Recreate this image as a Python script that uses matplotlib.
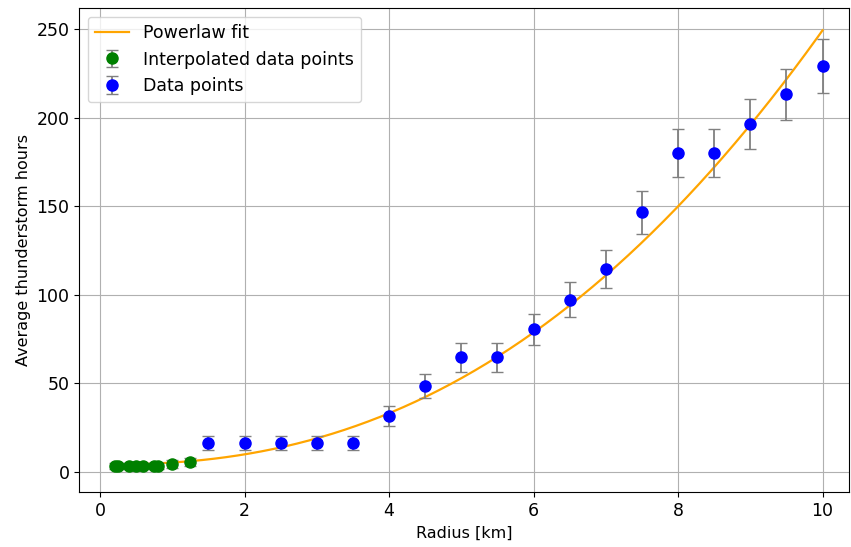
import numpy as np
import matplotlib
matplotlib.use("Agg")
import matplotlib.pyplot as plt

# interpolated points at small radii
interp_r = [0.2, 0.25, 0.4, 0.5, 0.6, 0.75, 0.8, 1.0, 1.25]
interp_h = [3.4, 3.4, 3.4, 3.4, 3.4, 3.5, 3.5, 4.5, 5.6]

# measured points
radius = [1.5, 2.0, 2.5, 3.0, 3.5, 4.0, 4.5, 5.0, 5.5, 6.0,
          6.5, 7.0, 7.5, 8.0, 8.5, 9.0, 9.5, 10.0]
hours = [16.4, 16.4, 16.4, 16.4, 16.4, 31.7, 48.5, 64.7, 64.7, 80.5,
         97.4, 114.7, 146.6, 180.2, 180.2, 196.5, 213.2, 229.1]

# powerlaw fit parameters: c + a * r**b
fit_a, fit_b, fit_c = 1.147, 2.33, 4.2

interp_err = np.sqrt(interp_h)
hours_err = np.sqrt(hours)

r_fit = np.linspace(0.2, 10, 300)
h_fit = fit_c + fit_a * r_fit ** fit_b

plt.rcParams['font.size'] = 11.5

fig = plt.figure(figsize=(8.51, 5.47), dpi=100)
ax = fig.add_axes([0.093, 0.1005, 0.905, 0.8845])

ax.plot(r_fit, h_fit, color='orange', lw=1.6, label='Powerlaw fit', zorder=2)
ax.errorbar(interp_r, interp_h, yerr=interp_err, fmt='o', color='green',
            ecolor='gray', capsize=4, ms=8, elinewidth=1.3,
            label='Interpolated data points', zorder=3)
ax.errorbar(radius, hours, yerr=hours_err, fmt='o', color='blue',
            ecolor='gray', capsize=4, ms=8, elinewidth=1.3,
            label='Data points', zorder=3)

ax.set_xlim(-0.29, 10.37)
ax.set_ylim(-11.3, 261.9)
ax.tick_params(labelsize=12.5)
ax.set_xlabel('Radius [km]')
ax.set_ylabel('Average thunderstorm hours')
ax.grid(True)
ax.legend(loc='upper left', fontsize=12.5)

fig.savefig('out.png', dpi=100)
